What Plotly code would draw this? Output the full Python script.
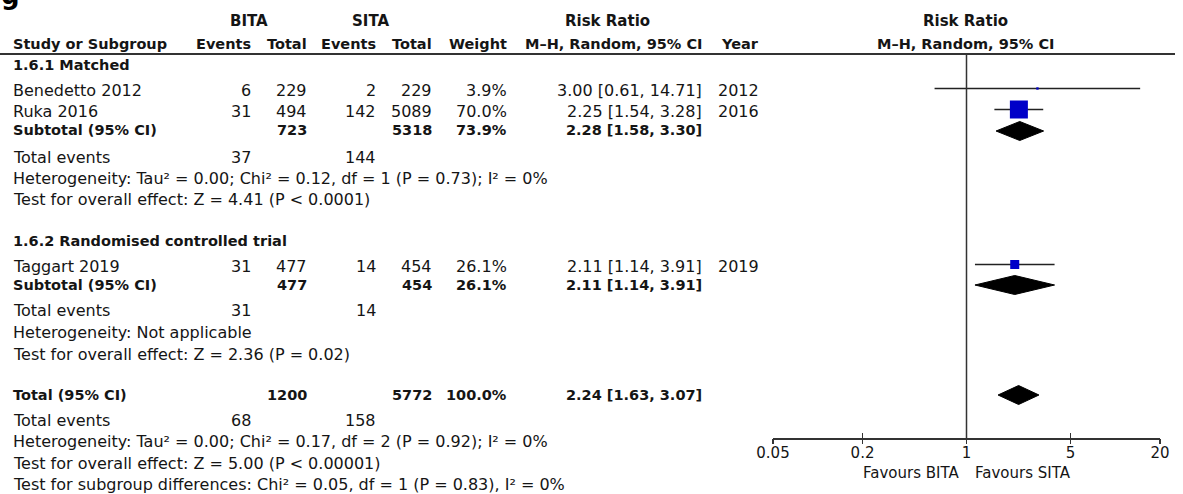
import math
import plotly.graph_objects as go

# ---------------- data ----------------
studies = ["Benedetto 2012", "Ruka 2016", "Taggart 2019"]
study_group = [0, 0, 1]
bita_events = [6, 31, 31]
bita_total = [229, 494, 477]
sita_events = [2, 142, 14]
sita_total = [229, 5089, 454]
weights = [3.9, 70.0, 26.1]
rr = [3.00, 2.25, 2.11]
rr_lo = [0.61, 1.54, 1.14]
rr_hi = [14.71, 3.28, 3.91]
years = [2012, 2016, 2019]

groups = ["1.6.1 Matched", "1.6.2 Randomised controlled trial"]
sub_bita_total = [723, 477]
sub_sita_total = [5318, 454]
sub_weight = [73.9, 26.1]
sub_rr = [2.28, 2.11]
sub_lo = [1.58, 1.14]
sub_hi = [3.30, 3.91]
sub_bita_events = [37, 31]
sub_sita_events = [144, 14]
sub_het = ["Heterogeneity: Tau² = 0.00; Chi² = 0.12, df = 1 (P = 0.73); I² = 0%",
           "Heterogeneity: Not applicable"]
sub_effect = ["Test for overall effect: Z = 4.41 (P < 0.0001)",
              "Test for overall effect: Z = 2.36 (P = 0.02)"]

tot_bita_total = 1200
tot_sita_total = 5772
tot_weight = 100.0
tot_rr, tot_lo, tot_hi = 2.24, 1.63, 3.07
tot_bita_events, tot_sita_events = 68, 158
tot_het = "Heterogeneity: Tau² = 0.00; Chi² = 0.17, df = 2 (P = 0.92); I² = 0%"
tot_effect = "Test for overall effect: Z = 5.00 (P < 0.00001)"
tot_subgroup = "Test for subgroup differences: Chi² = 0.05, df = 1 (P = 0.83), I² = 0%"

tick_vals = [0.05, 0.2, 1, 5, 20]
tick_text = ["0.05", "0.2", "1", "5", "20"]
favours_left = "Favours BITA"
favours_right = "Favours SITA"

# ---------------- layout constants ----------------
W, H = 1183, 494
FONT = "DejaVu Sans"
FS = 16
FSB = 14.5
TXT = "#151515"
BLUE = "#0000C8"
PLOT_L, PLOT_R = 773, 1160
AXIS_Y = 438
RULE_Y = 54

# column right edges (px)
C_BE, C_BT, C_SE, C_ST, C_W, C_RR, C_Y = 252, 308, 377, 433, 508, 703, 760
LEFT = 12

# rows (px from top)
study_rows = [90, 111, 266]
group_rows = [65, 241]
subtotal_rows = [130, 285]
events_rows = [157, 310]
het_rows = [178, 332]
effect_rows = [199.5, 354]
total_row = 395
total_events_row = 420
total_het_row = 441.5
total_effect_row = 463.5
subgroup_row = 484.5

ann = []


def txt(x, y, s, anchor="left", bold=False, size=None):
    if size is None:
        size = FSB if bold else FS
    ann.append(dict(x=x / W, y=y, xref="paper", yref="y", text=s, showarrow=False,
                    xanchor=anchor, yanchor="middle", borderpad=0,
                    font=dict(family=FONT, size=size, color=TXT,
                              weight="bold" if bold else "normal")))


def ci(r, lo, hi):
    return f"{r:.2f} [{lo:.2f}, {hi:.2f}]"


# header
txt((190 + C_BT) / 2, 21, "BITA", "center", True, 15)
txt(370, 21, "SITA", "center", True, 15)
txt(607, 21, "Risk Ratio", "center", True, 15)
txt(966, 21, "Risk Ratio", "center", True, 15)
txt(LEFT, 44, "Study or Subgroup", "left", True, 14.5)
txt(C_BE, 44, "Events", "right", True, 14.5)
txt(C_BT, 44, "Total", "right", True, 14.5)
txt(C_SE, 44, "Events", "right", True, 14.5)
txt(C_ST, 44, "Total", "right", True, 14.5)
txt(C_W, 44, "Weight", "right", True, 14.5)
txt(C_RR, 44, "M–H, Random, 95% CI", "right", True, 14.5)
txt(C_Y, 44, "Year", "right", True, 14.5)
txt(966, 44, "M–H, Random, 95% CI", "center", True, 14.5)

for g in range(len(groups)):
    txt(LEFT, group_rows[g], groups[g], "left", True)
    for i in range(len(studies)):
        if study_group[i] != g:
            continue
        y = study_rows[i]
        txt(LEFT, y, studies[i])
        txt(C_BE, y, str(bita_events[i]), "right")
        txt(C_BT, y, str(bita_total[i]), "right")
        txt(C_SE, y, str(sita_events[i]), "right")
        txt(C_ST, y, str(sita_total[i]), "right")
        txt(C_W, y, f"{weights[i]:.1f}%", "right")
        txt(C_RR, y, ci(rr[i], rr_lo[i], rr_hi[i]), "right")
        txt(C_Y, y, str(years[i]), "right")
    y = subtotal_rows[g]
    txt(LEFT, y, "Subtotal (95% CI)", "left", True)
    txt(C_BT, y, str(sub_bita_total[g]), "right", True)
    txt(C_ST, y, str(sub_sita_total[g]), "right", True)
    txt(C_W, y, f"{sub_weight[g]:.1f}%", "right", True)
    txt(C_RR, y, ci(sub_rr[g], sub_lo[g], sub_hi[g]), "right", True)
    txt(LEFT, events_rows[g], "Total events")
    txt(C_BE, events_rows[g], str(sub_bita_events[g]), "right")
    txt(C_SE, events_rows[g], str(sub_sita_events[g]), "right")
    txt(LEFT, het_rows[g], sub_het[g])
    txt(LEFT, effect_rows[g], sub_effect[g])

txt(LEFT, total_row, "Total (95% CI)", "left", True)
txt(C_BT, total_row, str(tot_bita_total), "right", True)
txt(C_ST, total_row, str(tot_sita_total), "right", True)
txt(C_W, total_row, f"{tot_weight:.1f}%", "right", True)
txt(C_RR, total_row, ci(tot_rr, tot_lo, tot_hi), "right", True)
txt(LEFT, total_events_row, "Total events")
txt(C_BE, total_events_row, str(tot_bita_events), "right")
txt(C_SE, total_events_row, str(tot_sita_events), "right")
txt(LEFT, total_het_row, tot_het)
txt(LEFT, total_effect_row, tot_effect)
txt(LEFT, subgroup_row, tot_subgroup)

# favours labels
txt(960, 473, favours_left, "right", False, 15)
txt(974, 473, favours_right, "left", False, 15)

# panel label (cropped at the top edge, as in the source figure)
ann.append(dict(x=0, y=11, xref="paper", yref="y", text="g", showarrow=False,
                xanchor="left", yanchor="bottom", borderpad=0,
                font=dict(family=FONT, size=26, color="#000", weight="bold")))

fig = go.Figure()

# study CIs and squares
for i in range(len(studies)):
    y = study_rows[i] - 1.5
    fig.add_trace(go.Scatter(x=[rr_lo[i], rr_hi[i]], y=[y, y], mode="lines",
                             line=dict(color="#222", width=1.3), hoverinfo="skip"))
for i in range(len(studies)):
    y = study_rows[i] - 1.5
    fig.add_trace(go.Scatter(x=[rr[i]], y=[y], mode="markers",
                             marker=dict(symbol="square", color=BLUE,
                                         size=0.92 * weights[i] ** 0.7, line=dict(width=0)),
                             hoverinfo="skip"))

# diamonds
DH = 9.5
for r, lo, hi, y in list(zip(sub_rr, sub_lo, sub_hi, [131, 285])) + [(tot_rr, tot_lo, tot_hi, 395)]:
    fig.add_trace(go.Scatter(x=[lo, r, hi, r, lo], y=[y, y - DH, y, y + DH, y],
                             mode="lines", fill="toself", fillcolor="#000",
                             line=dict(color="#000", width=1), hoverinfo="skip"))

# null line
fig.add_trace(go.Scatter(x=[1, 1], y=[RULE_Y, AXIS_Y], mode="lines",
                         line=dict(color="#333", width=1.5), hoverinfo="skip"))

# header rule
fig.add_shape(type="line", xref="paper", yref="y", x0=0, x1=1175 / W, y0=RULE_Y, y1=RULE_Y,
              line=dict(color="#333", width=2))

axpos = (H - AXIS_Y) / H
rng = [math.log10(tick_vals[0]), math.log10(tick_vals[-1])]
dom = [PLOT_L / W, PLOT_R / W]
fig.update_layout(
    template="none",
    width=W, height=H, margin=dict(l=0, r=0, t=0, b=0, pad=0, autoexpand=False),
    paper_bgcolor="white", plot_bgcolor="rgba(0,0,0,0)", showlegend=False,
    annotations=ann,
    xaxis=dict(type="log", range=rng, domain=dom, anchor="free", position=axpos,
               automargin=False,
               showgrid=False, zeroline=False, showline=True, linecolor="#333", linewidth=1.5,
               ticks="inside", ticklen=5, tickwidth=1.5, tickcolor="#333",
               tickvals=tick_vals, ticktext=tick_text,
               tickfont=dict(family=FONT, size=15, color=TXT)),
    xaxis2=dict(type="log", range=rng, overlaying="x", anchor="free", position=axpos,
                automargin=False,
                showgrid=False, zeroline=False, showline=False,
                ticks="outside", ticklen=5, tickwidth=1.5, tickcolor="#333",
                tickvals=tick_vals, showticklabels=False),
    yaxis=dict(range=[H, 0], domain=[0, 1], visible=False, showgrid=False,
               zeroline=False, automargin=False),
)
fig.add_trace(go.Scatter(x=[1], y=[AXIS_Y], xaxis="x2", mode="markers",
                         marker=dict(opacity=0), hoverinfo="skip"))

fig.write_html("out.html", config={"displayModeBar": False, "staticPlot": True},
               post_script="document.body.style.margin='0';document.body.style.overflow='hidden';")
